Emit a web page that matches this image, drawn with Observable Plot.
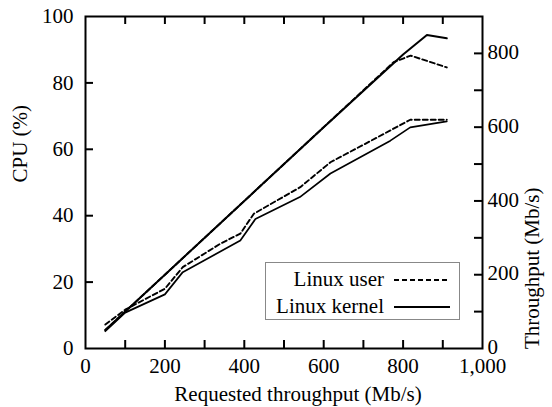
<!DOCTYPE html>
<html>
<head>
<meta charset="utf-8">
<script src="https://cdn.jsdelivr.net/npm/d3@7"></script>
<script src="https://cdn.jsdelivr.net/npm/@observablehq/plot@0.6"></script>
<style>
  body { margin: 0; background: #fff; }
  #wrap { position: relative; width: 552px; height: 407px; font-family: "Liberation Serif", "Times New Roman", serif; }
  #legend { position: absolute; left: 265px; top: 262px; width: 193px; height: 56px; border: 1px solid #888; background: #fff; }
  .lg { position: absolute; right: 75px; font-size: 21px; line-height: 1; white-space: nowrap; }
  .sw { position: absolute; left: 128px; }
</style>
</head>
<body>
<div id="wrap"></div>
<script>
// ---- data ----
const requestedKernelCpu = [50, 100, 200, 245, 390, 428, 540, 617, 768, 818, 910];
const cpuKernel          = [5.2, 10.8, 16.3, 23, 32.5, 39, 45.6, 52.7, 62.6, 66.6, 68.4];
const requestedUserCpu   = [50, 100, 200, 245, 340, 390, 424, 541, 617, 718, 818, 910];
const cpuUser            = [7.2, 11.7, 18, 24.5, 31.6, 34.6, 40.6, 48.6, 56.1, 62.5, 68.9, 68.9];
const requestedKernelThr = [50, 200, 400, 600, 800, 860, 910];
const thrKernel          = [50, 200, 400, 600, 797, 850, 841];
const requestedUserThr   = [50, 200, 400, 600, 776, 819, 910];
const thrUser            = [50, 200, 400, 600, 776, 794, 762];

// ---- ticks ----
const xTicks = [100, 200, 300, 400, 500, 600, 700, 800, 900];
const xTickLabels = [0, 200, 400, 600, 800, 1000];
const cpuTicks = [20, 40, 60, 80];
const cpuTickLabels = [0, 20, 40, 60, 80, 100];
const thrTicks = [100, 200, 300, 400, 500, 600, 700, 800];
const thrTickLabels = [0, 200, 400, 600, 800];
const thrMax = 900; // right axis top

const toCpu = t => t * 100 / thrMax;

const mk = (xs, ys) => xs.map((x, i) => ({x, y: ys[i]}));
const kernelCpu = mk(requestedKernelCpu, cpuKernel);
const userCpu = mk(requestedUserCpu, cpuUser);
const kernelThr = mk(requestedKernelThr, thrKernel.map(toCpu));
const userThr = mk(requestedUserThr, thrUser.map(toCpu));

const W = 552, H = 407, mL = 85, mR = 70, mT = 16, mB = 59;
const pw = W - mL - mR, ph = H - mT - mB, tl = 8;
const fs = 21;

const chart = Plot.plot({
  width: W, height: H,
  marginLeft: mL, marginRight: mR, marginTop: mT, marginBottom: mB,
  style: {fontFamily: '"Liberation Serif", "Times New Roman", serif', fontSize: fs + "px", background: "#fff", color: "#000"},
  x: {domain: [0, 1000], axis: null},
  y: {domain: [0, 100], axis: null},
  marks: [
    Plot.line(kernelCpu, {x: "x", y: "y", stroke: "#000", strokeWidth: 1.7}),
    Plot.line(userCpu, {x: "x", y: "y", stroke: "#000", strokeWidth: 1.9, strokeDasharray: "5,3"}),
    Plot.line(kernelThr, {x: "x", y: "y", stroke: "#000", strokeWidth: 2}),
    Plot.line(userThr, {x: "x", y: "y", stroke: "#000", strokeWidth: 1.9, strokeDasharray: "5,3"}),
    // inward ticks
    Plot.tickY(cpuTicks, {y: d => d, stroke: "#000", strokeWidth: 2, insetRight: pw - tl}),
    Plot.tickY(thrTicks, {y: d => toCpu(d), stroke: "#000", strokeWidth: 2, insetLeft: pw - tl}),
    Plot.tickX(xTicks, {x: d => d, stroke: "#000", strokeWidth: 2, insetTop: ph - tl}),
    Plot.tickX(xTicks, {x: d => d, stroke: "#000", strokeWidth: 2, insetBottom: ph - tl}),
    // tick labels
    Plot.text(cpuTickLabels, {y: d => d, text: d => String(d), frameAnchor: "left", textAnchor: "end", lineAnchor: "middle", dx: -12, fontSize: fs}),
    Plot.text(thrTickLabels, {y: d => toCpu(d), text: d => String(d), frameAnchor: "right", textAnchor: "start", lineAnchor: "middle", dx: 5, dy: -1, fontSize: fs}),
    Plot.text(xTickLabels, {x: d => d, text: d => d3.format(",")(d), frameAnchor: "bottom", lineAnchor: "top", dy: 10, fontSize: fs}),
    // axis titles
    Plot.text(["CPU (%)"], {frameAnchor: "left", rotate: -90, lineAnchor: "middle", dx: -65, fontSize: fs}),
    Plot.text(["Throughput (Mb/s)"], {frameAnchor: "right", rotate: -90, lineAnchor: "middle", dx: 50, dy: 5, fontSize: fs}),
    Plot.text(["Requested throughput (Mb/s)"], {frameAnchor: "bottom", lineAnchor: "bottom", dx: 14, dy: 52, fontSize: fs}),
    Plot.frame({stroke: "#000", strokeWidth: 2})
  ]
});

const wrap = document.getElementById("wrap");
wrap.appendChild(chart);

// legend
const legend = document.createElement("div");
legend.id = "legend";
const entries = [{label: "Linux user", dash: "5,3", top: 6}, {label: "Linux kernel", dash: null, top: 33}];
for (const e of entries) {
  const t = document.createElement("div");
  t.className = "lg";
  t.style.top = e.top + "px";
  t.textContent = e.label;
  legend.appendChild(t);
  const s = d3.create("svg").attr("class", "sw").attr("width", 58).attr("height", 10)
    .style("top", (e.top + 6) + "px");
  s.append("line").attr("x1", 0).attr("x2", 56).attr("y1", 5).attr("y2", 5)
    .attr("stroke", "#000").attr("stroke-width", 2).attr("stroke-dasharray", e.dash);
  legend.appendChild(s.node());
}
wrap.appendChild(legend);
</script>
</body>
</html>
